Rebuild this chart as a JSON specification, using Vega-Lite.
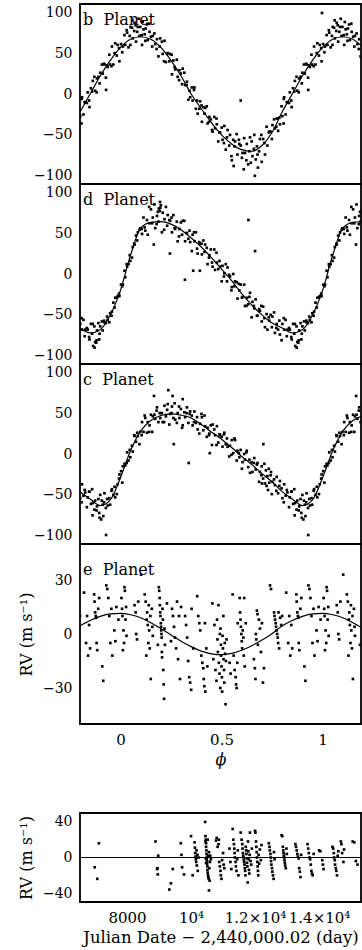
{
"$schema": "https://vega.github.io/schema/vega-lite/v6.json",
"padding": {"left": 17, "top": 2, "right": 0, "bottom": 0},
"config": {
 "font": "DejaVu Serif",
 "view": {"stroke": "black", "strokeWidth": 1.8},
 "axis": {"domain": false, "grid": false, "tickColor": "black", "tickWidth": 1, "tickSize": 0, "labelColor": "black", "labelFont": "DejaVu Serif", "labelFontSize": 14, "titleFont": "DejaVu Serif", "titleFontSize": 16, "titleFontWeight": "normal", "titleColor": "black", "labelOverlap": false, "labelFlush": false},
 "axisX": {"labelFontSize": 15}
},
"datasets": {
 "bFit": [{"phase":-0.2,"rv":-22},{"phase":-0.15,"rv":0},{"phase":-0.1,"rv":22},{"phase":-0.05,"rv":41},{"phase":0,"rv":57},{"phase":0.05,"rv":67},{"phase":0.1,"rv":70},{"phase":0.15,"rv":67},{"phase":0.2,"rv":57},{"phase":0.25,"rv":41},{"phase":0.3,"rv":22},{"phase":0.35,"rv":0},{"phase":0.4,"rv":-18},{"phase":0.45,"rv":-35},{"phase":0.5,"rv":-50},{"phase":0.55,"rv":-61},{"phase":0.6,"rv":-68},{"phase":0.65,"rv":-70},{"phase":0.7,"rv":-63},{"phase":0.75,"rv":-47},{"phase":0.8,"rv":-22},{"phase":0.85,"rv":0},{"phase":0.9,"rv":22},{"phase":0.95,"rv":41},{"phase":1,"rv":57},{"phase":1.05,"rv":67},{"phase":1.1,"rv":70},{"phase":1.15,"rv":67},{"phase":1.2,"rv":57}],
 "dFit": [{"phase":-0.2,"rv":-66},{"phase":-0.15,"rv":-72},{"phase":-0.1,"rv":-68},{"phase":-0.05,"rv":-50},{"phase":0,"rv":-20},{"phase":0.05,"rv":23},{"phase":0.1,"rv":56},{"phase":0.15,"rv":63},{"phase":0.2,"rv":64},{"phase":0.25,"rv":61},{"phase":0.3,"rv":54},{"phase":0.35,"rv":44},{"phase":0.4,"rv":33},{"phase":0.45,"rv":20},{"phase":0.5,"rv":6},{"phase":0.55,"rv":-8},{"phase":0.6,"rv":-24},{"phase":0.65,"rv":-38},{"phase":0.7,"rv":-50},{"phase":0.75,"rv":-60},{"phase":0.8,"rv":-66},{"phase":0.85,"rv":-72},{"phase":0.9,"rv":-68},{"phase":0.95,"rv":-50},{"phase":1,"rv":-20},{"phase":1.05,"rv":23},{"phase":1.1,"rv":56},{"phase":1.15,"rv":63},{"phase":1.2,"rv":64}],
 "cFit": [{"phase":-0.2,"rv":-46},{"phase":-0.15,"rv":-55},{"phase":-0.1,"rv":-63},{"phase":-0.05,"rv":-56},{"phase":0,"rv":-29},{"phase":0.05,"rv":4},{"phase":0.1,"rv":28},{"phase":0.15,"rv":41},{"phase":0.2,"rv":47},{"phase":0.25,"rv":49},{"phase":0.3,"rv":47.5},{"phase":0.35,"rv":44},{"phase":0.4,"rv":36},{"phase":0.45,"rv":27},{"phase":0.5,"rv":18},{"phase":0.55,"rv":8},{"phase":0.6,"rv":-3},{"phase":0.65,"rv":-13},{"phase":0.7,"rv":-24},{"phase":0.75,"rv":-34},{"phase":0.8,"rv":-46},{"phase":0.85,"rv":-55},{"phase":0.9,"rv":-63},{"phase":0.95,"rv":-56},{"phase":1,"rv":-29},{"phase":1.05,"rv":4},{"phase":1.1,"rv":28},{"phase":1.15,"rv":41},{"phase":1.2,"rv":47}],
 "eFit": [{"phase":-0.2,"rv":4.5},{"phase":-0.15,"rv":7.5},{"phase":-0.1,"rv":9.8},{"phase":-0.05,"rv":11.2},{"phase":0,"rv":11.5},{"phase":0.05,"rv":10.7},{"phase":0.1,"rv":9},{"phase":0.15,"rv":6.3},{"phase":0.2,"rv":3},{"phase":0.25,"rv":-0.5},{"phase":0.3,"rv":-4},{"phase":0.35,"rv":-7},{"phase":0.4,"rv":-9.5},{"phase":0.45,"rv":-11},{"phase":0.5,"rv":-11.5},{"phase":0.55,"rv":-10.8},{"phase":0.6,"rv":-9},{"phase":0.65,"rv":-6.5},{"phase":0.7,"rv":-3.3},{"phase":0.75,"rv":0.2},{"phase":0.8,"rv":4.5},{"phase":0.85,"rv":7.5},{"phase":0.9,"rv":9.8},{"phase":0.95,"rv":11.2},{"phase":1,"rv":11.5},{"phase":1.05,"rv":10.7},{"phase":1.1,"rv":9},{"phase":1.15,"rv":6.3},{"phase":1.2,"rv":3}],
 "bPts": [
{"phase":-0.199,"rv":-27},{"phase":-0.19,"rv":-4},{"phase":-0.183,"rv":-25},{"phase":-0.177,"rv":-10},{"phase":-0.166,"rv":-11},{"phase":-0.162,"rv":2},{"phase":-0.153,"rv":-16},{"phase":-0.146,"rv":7},{"phase":-0.14,"rv":3},{"phase":-0.129,"rv":21},{"phase":-0.125,"rv":4},{"phase":-0.116,"rv":19},{"phase":-0.109,"rv":21},{"phase":-0.103,"rv":13},{"phase":-0.092,"rv":36},{"phase":-0.088,"rv":25},{"phase":-0.079,"rv":36},{"phase":-0.072,"rv":20},{"phase":-0.066,"rv":35},{"phase":-0.055,"rv":48},{"phase":-0.051,"rv":36},{"phase":-0.042,"rv":58},{"phase":-0.035,"rv":36},{"phase":-0.029,"rv":50},{"phase":-0.018,"rv":47},{"phase":-0.014,"rv":60},{"phase":-0.005,"rv":40},{"phase":-0.193,"rv":-36},{"phase":-0.071,"rv":5},
{"phase":0.003,"rv":61},{"phase":0.009,"rv":51},{"phase":0.02,"rv":72},{"phase":0.024,"rv":60},{"phase":0.033,"rv":75},{"phase":0.04,"rv":57},{"phase":0.046,"rv":71},{"phase":0.057,"rv":81},{"phase":0.061,"rv":68},{"phase":0.07,"rv":87},{"phase":0.077,"rv":64},{"phase":0.083,"rv":76},{"phase":0.094,"rv":71},{"phase":0.098,"rv":82},{"phase":0.107,"rv":60},{"phase":0.114,"rv":79},{"phase":0.12,"rv":73},{"phase":0.131,"rv":85},{"phase":0.135,"rv":66},{"phase":0.144,"rv":76},{"phase":0.151,"rv":70},{"phase":0.157,"rv":58},{"phase":0.168,"rv":74},{"phase":0.172,"rv":61},{"phase":0.181,"rv":67},{"phase":0.188,"rv":46},{"phase":0.194,"rv":58},
{"phase":0.06,"rv":90},{"phase":0.075,"rv":84},{"phase":0.09,"rv":92},{"phase":0.11,"rv":88},{"phase":0.125,"rv":80},{"phase":0.05,"rv":82},
{"phase":0.205,"rv":64},{"phase":0.209,"rv":49},{"phase":0.218,"rv":65},{"phase":0.225,"rv":39},{"phase":0.231,"rv":49},{"phase":0.242,"rv":40},{"phase":0.246,"rv":49},{"phase":0.255,"rv":24},{"phase":0.262,"rv":41},{"phase":0.268,"rv":33},{"phase":0.279,"rv":42},{"phase":0.283,"rv":21},{"phase":0.292,"rv":29},{"phase":0.299,"rv":25},{"phase":0.305,"rv":12},{"phase":0.316,"rv":26},{"phase":0.32,"rv":11},{"phase":0.329,"rv":15},{"phase":0.336,"rv":-7},{"phase":0.342,"rv":4},{"phase":0.353,"rv":8},{"phase":0.357,"rv":-8},{"phase":0.366,"rv":8},{"phase":0.373,"rv":-18},{"phase":0.379,"rv":-8},{"phase":0.39,"rv":-18},{"phase":0.394,"rv":-9},
{"phase":0.403,"rv":-34},{"phase":0.41,"rv":-16},{"phase":0.416,"rv":-24},{"phase":0.427,"rv":-15},{"phase":0.431,"rv":-36},{"phase":0.44,"rv":-28},{"phase":0.447,"rv":-31},{"phase":0.453,"rv":-44},{"phase":0.464,"rv":-28},{"phase":0.468,"rv":-42},{"phase":0.477,"rv":-37},{"phase":0.484,"rv":-58},{"phase":0.49,"rv":-47},{"phase":0.501,"rv":-41},{"phase":0.505,"rv":-56},{"phase":0.514,"rv":-39},{"phase":0.521,"rv":-68},{"phase":0.527,"rv":-53},{"phase":0.538,"rv":-63},{"phase":0.542,"rv":-50},{"phase":0.551,"rv":-81},{"phase":0.558,"rv":-56},{"phase":0.564,"rv":-64},{"phase":0.575,"rv":-49},{"phase":0.579,"rv":-74},{"phase":0.588,"rv":-61},{"phase":0.595,"rv":-63},{"phase":0.595,"rv":-8},
{"phase":0.601,"rv":-78},{"phase":0.612,"rv":-54},{"phase":0.616,"rv":-72},{"phase":0.625,"rv":-61},{"phase":0.632,"rv":-86},{"phase":0.638,"rv":-70},{"phase":0.649,"rv":-58},{"phase":0.653,"rv":-76},{"phase":0.662,"rv":-50},{"phase":0.665,"rv":-100},{"phase":0.669,"rv":-80},{"phase":0.675,"rv":-64},{"phase":0.686,"rv":-70},{"phase":0.69,"rv":-55},{"phase":0.699,"rv":-83},{"phase":0.706,"rv":-55},{"phase":0.712,"rv":-60},{"phase":0.723,"rv":-40},{"phase":0.727,"rv":-63},{"phase":0.736,"rv":-46},{"phase":0.743,"rv":-46},{"phase":0.749,"rv":-55},{"phase":0.76,"rv":-31},{"phase":0.764,"rv":-42},{"phase":0.773,"rv":-30},{"phase":0.78,"rv":-45},{"phase":0.786,"rv":-29},{"phase":0.797,"rv":-15},
{"phase":0.56,"rv":-88},{"phase":0.61,"rv":-92},{"phase":0.645,"rv":-84},{"phase":0.68,"rv":-90},
{"phase":0.801,"rv":-27},{"phase":0.807,"rv":-36},{"phase":0.81,"rv":-4},{"phase":0.817,"rv":-25},{"phase":0.823,"rv":-10},{"phase":0.834,"rv":-11},{"phase":0.838,"rv":2},{"phase":0.847,"rv":-16},{"phase":0.854,"rv":7},{"phase":0.86,"rv":3},{"phase":0.871,"rv":21},{"phase":0.875,"rv":4},{"phase":0.884,"rv":19},{"phase":0.891,"rv":21},{"phase":0.897,"rv":13},{"phase":0.908,"rv":36},{"phase":0.912,"rv":25},{"phase":0.921,"rv":36},{"phase":0.928,"rv":20},{"phase":0.929,"rv":5},{"phase":0.934,"rv":35},{"phase":0.945,"rv":48},{"phase":0.949,"rv":36},{"phase":0.958,"rv":58},{"phase":0.965,"rv":36},{"phase":0.971,"rv":50},{"phase":0.982,"rv":47},{"phase":0.986,"rv":60},{"phase":0.995,"rv":40},{"phase":0.997,"rv":99},
{"phase":1.003,"rv":61},{"phase":1.009,"rv":51},{"phase":1.02,"rv":72},{"phase":1.024,"rv":60},{"phase":1.033,"rv":75},{"phase":1.04,"rv":57},{"phase":1.046,"rv":71},{"phase":1.057,"rv":81},{"phase":1.061,"rv":68},{"phase":1.07,"rv":87},{"phase":1.077,"rv":64},{"phase":1.083,"rv":76},{"phase":1.094,"rv":71},{"phase":1.098,"rv":82},{"phase":1.107,"rv":60},{"phase":1.114,"rv":79},{"phase":1.12,"rv":73},{"phase":1.131,"rv":85},{"phase":1.135,"rv":66},{"phase":1.144,"rv":76},{"phase":1.151,"rv":70},{"phase":1.157,"rv":58},{"phase":1.168,"rv":74},{"phase":1.172,"rv":61},{"phase":1.181,"rv":67},{"phase":1.188,"rv":46},
{"phase":1.06,"rv":90},{"phase":1.075,"rv":84},{"phase":1.09,"rv":92},{"phase":1.11,"rv":88},{"phase":1.125,"rv":80},{"phase":1.05,"rv":82},
{"phase":0.012,"rv":58},{"phase":0.031,"rv":78},{"phase":0.049,"rv":60},{"phase":0.068,"rv":77},{"phase":0.086,"rv":82},{"phase":0.105,"rv":72},{"phase":0.123,"rv":65},{"phase":0.142,"rv":86},{"phase":0.16,"rv":71},{"phase":0.179,"rv":55},{"phase":0.197,"rv":68},{"phase":0.216,"rv":40},{"phase":0.234,"rv":50},{"phase":0.253,"rv":48},{"phase":0.271,"rv":30},{"phase":0.29,"rv":17},{"phase":0.308,"rv":31},{"phase":0.327,"rv":11},{"phase":0.345,"rv":-4},{"phase":0.364,"rv":5},{"phase":0.382,"rv":-24},{"phase":0.401,"rv":-14},{"phase":0.419,"rv":-17},{"phase":0.438,"rv":-34},{"phase":0.456,"rv":-46},{"phase":0.475,"rv":-30},{"phase":0.493,"rv":-47},{"phase":0.512,"rv":-60},{"phase":0.53,"rv":-44},{"phase":0.549,"rv":-76},{"phase":0.567,"rv":-58},{"phase":0.586,"rv":-56},{"phase":0.604,"rv":-72},{"phase":0.623,"rv":-81},{"phase":0.641,"rv":-53},{"phase":0.66,"rv":-67},{"phase":0.678,"rv":-74},{"phase":0.697,"rv":-50},{"phase":0.715,"rv":-74},{"phase":0.734,"rv":-47},{"phase":0.752,"rv":-38},{"phase":0.771,"rv":-40},{"phase":0.789,"rv":-37},{"phase":0.808,"rv":-6},{"phase":0.826,"rv":-10},{"phase":0.845,"rv":-8},{"phase":0.863,"rv":16},{"phase":0.882,"rv":2},{"phase":0.9,"rv":26},{"phase":0.919,"rv":37},{"phase":0.937,"rv":33},{"phase":0.956,"rv":34},{"phase":0.974,"rv":62},{"phase":0.993,"rv":56},
{"phase":-0.192,"rv":-6},{"phase":-0.174,"rv":-10},{"phase":-0.155,"rv":-8},{"phase":-0.137,"rv":16},{"phase":-0.118,"rv":2},{"phase":-0.1,"rv":26},{"phase":-0.081,"rv":37},{"phase":-0.063,"rv":33},{"phase":-0.044,"rv":34},{"phase":-0.026,"rv":62},{"phase":-0.007,"rv":56},
{"phase":1.012,"rv":58},{"phase":1.031,"rv":78},{"phase":1.049,"rv":60},{"phase":1.068,"rv":77},{"phase":1.086,"rv":82},{"phase":1.105,"rv":72},{"phase":1.123,"rv":65},{"phase":1.142,"rv":86},{"phase":1.16,"rv":71},{"phase":1.179,"rv":55}
 ],
 "dPts": [
{"phase":-0.199,"rv":-61},{"phase":-0.19,"rv":-68},{"phase":-0.183,"rv":-56},{"phase":-0.177,"rv":-76},{"phase":-0.166,"rv":-66},{"phase":-0.162,"rv":-68},{"phase":-0.153,"rv":-80},{"phase":-0.146,"rv":-61},{"phase":-0.14,"rv":-73},{"phase":-0.129,"rv":-64},{"phase":-0.125,"rv":-83},{"phase":-0.116,"rv":-69},{"phase":-0.109,"rv":-60},{"phase":-0.103,"rv":-73},{"phase":-0.092,"rv":-58},{"phase":-0.088,"rv":-69},{"phase":-0.079,"rv":-59},{"phase":-0.072,"rv":-60},{"phase":-0.066,"rv":-52},{"phase":-0.055,"rv":-59},{"phase":-0.051,"rv":-48},{"phase":-0.042,"rv":-46},{"phase":-0.035,"rv":-35},{"phase":-0.029,"rv":-41},{"phase":-0.018,"rv":-29},{"phase":-0.014,"rv":-27},{"phase":-0.005,"rv":-27},{"phase":-0.135,"rv":-88},{"phase":-0.12,"rv":-84},{"phase":-0.128,"rv":-90},{"phase":-0.105,"rv":-80},
{"phase":0.003,"rv":-13},{"phase":0.009,"rv":-15},{"phase":0.02,"rv":4},{"phase":0.024,"rv":-4},{"phase":0.033,"rv":9},{"phase":0.04,"rv":12},{"phase":0.046,"rv":23},{"phase":0.057,"rv":20},{"phase":0.061,"rv":33},{"phase":0.07,"rv":36},{"phase":0.077,"rv":47},{"phase":0.083,"rv":41},{"phase":0.094,"rv":54},{"phase":0.098,"rv":56},{"phase":0.107,"rv":49},{"phase":0.114,"rv":69},{"phase":0.12,"rv":57},{"phase":0.131,"rv":66},{"phase":0.135,"rv":48},{"phase":0.144,"rv":62},{"phase":0.151,"rv":79},{"phase":0.157,"rv":62},{"phase":0.165,"rv":36},{"phase":0.168,"rv":85},{"phase":0.172,"rv":56},{"phase":0.181,"rv":71},{"phase":0.185,"rv":76},{"phase":0.188,"rv":64},{"phase":0.19,"rv":80},{"phase":0.194,"rv":77},{"phase":0.196,"rv":88},{"phase":0.2,"rv":84},
{"phase":0.205,"rv":51},{"phase":0.209,"rv":75},{"phase":0.218,"rv":67},{"phase":0.225,"rv":82},{"phase":0.231,"rv":59},{"phase":0.242,"rv":66},{"phase":0.245,"rv":25},{"phase":0.246,"rv":65},{"phase":0.255,"rv":51},{"phase":0.262,"rv":72},{"phase":0.268,"rv":56},{"phase":0.279,"rv":64},{"phase":0.283,"rv":40},{"phase":0.292,"rv":55},{"phase":0.299,"rv":63},{"phase":0.305,"rv":48},{"phase":0.316,"rv":65},{"phase":0.319,"rv":-7},{"phase":0.32,"rv":40},{"phase":0.329,"rv":50},{"phase":0.336,"rv":43},{"phase":0.342,"rv":53},{"phase":0.353,"rv":28},{"phase":0.357,"rv":48},{"phase":0.36,"rv":4},{"phase":0.366,"rv":40},{"phase":0.373,"rv":51},{"phase":0.379,"rv":31},{"phase":0.39,"rv":39},{"phase":0.393,"rv":4},{"phase":0.394,"rv":37},
{"phase":0.403,"rv":24},{"phase":0.41,"rv":41},{"phase":0.416,"rv":27},{"phase":0.427,"rv":32},{"phase":0.431,"rv":12},{"phase":0.44,"rv":23},{"phase":0.447,"rv":30},{"phase":0.453,"rv":14},{"phase":0.464,"rv":30},{"phase":0.468,"rv":5},{"phase":0.477,"rv":14},{"phase":0.484,"rv":6},{"phase":0.49,"rv":16},{"phase":0.501,"rv":-9},{"phase":0.505,"rv":10},{"phase":0.514,"rv":1},{"phase":0.521,"rv":12},{"phase":0.527,"rv":-9},{"phase":0.538,"rv":-1},{"phase":0.542,"rv":-3},{"phase":0.551,"rv":-16},{"phase":0.558,"rv":0},{"phase":0.564,"rv":-15},{"phase":0.575,"rv":-10},{"phase":0.579,"rv":-30},{"phase":0.588,"rv":-20},{"phase":0.595,"rv":-13},
{"phase":0.601,"rv":-29},{"phase":0.612,"rv":-13},{"phase":0.616,"rv":-39},{"phase":0.625,"rv":-29},{"phase":0.632,"rv":-37},{"phase":0.633,"rv":66},{"phase":0.638,"rv":-28},{"phase":0.649,"rv":-53},{"phase":0.653,"rv":-34},{"phase":0.662,"rv":-42},{"phase":0.666,"rv":28},{"phase":0.669,"rv":-31},{"phase":0.675,"rv":-51},{"phase":0.686,"rv":-43},{"phase":0.69,"rv":-45},{"phase":0.699,"rv":-58},{"phase":0.706,"rv":-40},{"phase":0.712,"rv":-54},{"phase":0.723,"rv":-49},{"phase":0.727,"rv":-68},{"phase":0.736,"rv":-57},{"phase":0.743,"rv":-50},{"phase":0.749,"rv":-65},{"phase":0.76,"rv":-47},{"phase":0.764,"rv":-72},{"phase":0.773,"rv":-61},{"phase":0.78,"rv":-68},{"phase":0.786,"rv":-57},{"phase":0.797,"rv":-81},
{"phase":0.801,"rv":-61},{"phase":0.81,"rv":-68},{"phase":0.817,"rv":-56},{"phase":0.823,"rv":-76},{"phase":0.834,"rv":-66},{"phase":0.838,"rv":-68},{"phase":0.847,"rv":-80},{"phase":0.854,"rv":-61},{"phase":0.86,"rv":-73},{"phase":0.865,"rv":-88},{"phase":0.871,"rv":-64},{"phase":0.872,"rv":-90},{"phase":0.875,"rv":-83},{"phase":0.88,"rv":-84},{"phase":0.884,"rv":-69},{"phase":0.891,"rv":-60},{"phase":0.895,"rv":-80},{"phase":0.897,"rv":-73},{"phase":0.908,"rv":-58},{"phase":0.912,"rv":-69},{"phase":0.921,"rv":-59},{"phase":0.928,"rv":-60},{"phase":0.934,"rv":-52},{"phase":0.945,"rv":-59},{"phase":0.949,"rv":-48},{"phase":0.958,"rv":-46},{"phase":0.965,"rv":-35},{"phase":0.971,"rv":-41},{"phase":0.982,"rv":-29},{"phase":0.986,"rv":-27},{"phase":0.995,"rv":-27},
{"phase":1.003,"rv":-13},{"phase":1.009,"rv":-15},{"phase":1.02,"rv":4},{"phase":1.024,"rv":-4},{"phase":1.033,"rv":9},{"phase":1.04,"rv":12},{"phase":1.046,"rv":23},{"phase":1.057,"rv":20},{"phase":1.061,"rv":33},{"phase":1.07,"rv":36},{"phase":1.077,"rv":47},{"phase":1.083,"rv":41},{"phase":1.094,"rv":54},{"phase":1.098,"rv":56},{"phase":1.107,"rv":49},{"phase":1.114,"rv":69},{"phase":1.12,"rv":57},{"phase":1.131,"rv":66},{"phase":1.135,"rv":48},{"phase":1.144,"rv":62},{"phase":1.151,"rv":79},{"phase":1.157,"rv":62},{"phase":1.165,"rv":36},{"phase":1.168,"rv":85},{"phase":1.172,"rv":56},{"phase":1.181,"rv":71},{"phase":1.185,"rv":76},{"phase":1.188,"rv":64},
{"phase":0.012,"rv":-13},{"phase":0.031,"rv":12},{"phase":0.049,"rv":16},{"phase":0.068,"rv":37},{"phase":0.086,"rv":51},{"phase":0.105,"rv":55},{"phase":0.123,"rv":53},{"phase":0.142,"rv":82},{"phase":0.16,"rv":69},{"phase":0.179,"rv":61},{"phase":0.197,"rv":81},{"phase":0.216,"rv":54},{"phase":0.234,"rv":72},{"phase":0.253,"rv":69},{"phase":0.271,"rv":55},{"phase":0.29,"rv":46},{"phase":0.308,"rv":65},{"phase":0.327,"rv":50},{"phase":0.345,"rv":39},{"phase":0.364,"rv":51},{"phase":0.382,"rv":25},{"phase":0.401,"rv":37},{"phase":0.419,"rv":36},{"phase":0.438,"rv":20},{"phase":0.456,"rv":9},{"phase":0.475,"rv":26},{"phase":0.493,"rv":9},{"phase":0.512,"rv":-3},{"phase":0.53,"rv":8},{"phase":0.549,"rv":-20},{"phase":0.567,"rv":-9},{"phase":0.586,"rv":-12},{"phase":0.604,"rv":-28},{"phase":0.623,"rv":-39},{"phase":0.641,"rv":-23},{"phase":0.66,"rv":-39},{"phase":0.678,"rv":-51},{"phase":0.697,"rv":-39},{"phase":0.715,"rv":-65},{"phase":0.734,"rv":-53},{"phase":0.752,"rv":-52},{"phase":0.771,"rv":-66},{"phase":0.789,"rv":-74},{"phase":0.808,"rv":-54},{"phase":0.826,"rv":-68},{"phase":0.845,"rv":-77},{"phase":0.863,"rv":-61},{"phase":0.882,"rv":-81},{"phase":0.9,"rv":-64},{"phase":0.919,"rv":-57},{"phase":0.937,"rv":-56},{"phase":0.956,"rv":-51},{"phase":0.974,"rv":-29},{"phase":0.993,"rv":-24},
{"phase":-0.192,"rv":-54},{"phase":-0.174,"rv":-68},{"phase":-0.155,"rv":-77},{"phase":-0.137,"rv":-61},{"phase":-0.118,"rv":-81},{"phase":-0.1,"rv":-64},{"phase":-0.081,"rv":-57},{"phase":-0.063,"rv":-56},{"phase":-0.044,"rv":-51},{"phase":-0.026,"rv":-29},{"phase":-0.007,"rv":-24},
{"phase":1.012,"rv":-13},{"phase":1.031,"rv":12},{"phase":1.049,"rv":16},{"phase":1.068,"rv":37},{"phase":1.086,"rv":51},{"phase":1.105,"rv":55},{"phase":1.123,"rv":53},{"phase":1.142,"rv":82},{"phase":1.16,"rv":69},{"phase":1.179,"rv":61}
 ],
 "cPts": [
{"phase":-0.199,"rv":-54},{"phase":-0.19,"rv":-37},{"phase":-0.183,"rv":-51},{"phase":-0.177,"rv":-44},{"phase":-0.166,"rv":-65},{"phase":-0.162,"rv":-53},{"phase":-0.153,"rv":-46},{"phase":-0.146,"rv":-61},{"phase":-0.14,"rv":-43},{"phase":-0.138,"rv":-75},{"phase":-0.129,"rv":-68},{"phase":-0.125,"rv":-57},{"phase":-0.116,"rv":-64},{"phase":-0.109,"rv":-55},{"phase":-0.105,"rv":-72},{"phase":-0.103,"rv":-78},{"phase":-0.095,"rv":-80},{"phase":-0.092,"rv":-57},{"phase":-0.088,"rv":-62},{"phase":-0.085,"rv":-76},{"phase":-0.079,"rv":-48},{"phase":-0.072,"rv":-66},{"phase":-0.071,"rv":-99},{"phase":-0.066,"rv":-55},{"phase":-0.055,"rv":-54},{"phase":-0.051,"rv":-62},{"phase":-0.042,"rv":-43},{"phase":-0.035,"rv":-50},{"phase":-0.029,"rv":-40},{"phase":-0.018,"rv":-49},{"phase":-0.014,"rv":-37},{"phase":-0.005,"rv":-25},
{"phase":0.003,"rv":-21},{"phase":0.009,"rv":-35},{"phase":0.02,"rv":-12},{"phase":0.024,"rv":-14},{"phase":0.033,"rv":2},{"phase":0.04,"rv":-8},{"phase":0.046,"rv":5},{"phase":0.057,"rv":10},{"phase":0.061,"rv":3},{"phase":0.07,"rv":22},{"phase":0.077,"rv":15},{"phase":0.083,"rv":26},{"phase":0.094,"rv":12},{"phase":0.098,"rv":27},{"phase":0.107,"rv":39},{"phase":0.114,"rv":27},{"phase":0.12,"rv":47},{"phase":0.131,"rv":26},{"phase":0.135,"rv":39},{"phase":0.144,"rv":35},{"phase":0.151,"rv":48},{"phase":0.157,"rv":27},{"phase":0.166,"rv":71},{"phase":0.168,"rv":48},{"phase":0.172,"rv":43},{"phase":0.181,"rv":57},{"phase":0.188,"rv":39},{"phase":0.194,"rv":50},
{"phase":0.205,"rv":50},{"phase":0.209,"rv":39},{"phase":0.218,"rv":59},{"phase":0.225,"rv":46},{"phase":0.231,"rv":54},{"phase":0.237,"rv":78},{"phase":0.242,"rv":36},{"phase":0.246,"rv":49},{"phase":0.255,"rv":58},{"phase":0.258,"rv":71},{"phase":0.262,"rv":44},{"phase":0.264,"rv":12},{"phase":0.268,"rv":62},{"phase":0.279,"rv":38},{"phase":0.283,"rv":50},{"phase":0.292,"rv":44},{"phase":0.299,"rv":55},{"phase":0.305,"rv":32},{"phase":0.308,"rv":67},{"phase":0.316,"rv":51},{"phase":0.32,"rv":45},{"phase":0.329,"rv":57},{"phase":0.336,"rv":38},{"phase":0.338,"rv":-11},{"phase":0.342,"rv":49},{"phase":0.353,"rv":47},{"phase":0.357,"rv":35},{"phase":0.366,"rv":52},{"phase":0.373,"rv":38},{"phase":0.379,"rv":45},{"phase":0.39,"rv":25},{"phase":0.394,"rv":37},
{"phase":0.403,"rv":45},{"phase":0.41,"rv":29},{"phase":0.416,"rv":47},{"phase":0.427,"rv":21},{"phase":0.431,"rv":32},{"phase":0.44,"rv":25},{"phase":0.442,"rv":1},{"phase":0.447,"rv":35},{"phase":0.453,"rv":11},{"phase":0.464,"rv":30},{"phase":0.468,"rv":23},{"phase":0.477,"rv":34},{"phase":0.484,"rv":14},{"phase":0.49,"rv":24},{"phase":0.501,"rv":21},{"phase":0.505,"rv":9},{"phase":0.514,"rv":26},{"phase":0.521,"rv":12},{"phase":0.527,"rv":19},{"phase":0.538,"rv":-3},{"phase":0.542,"rv":10},{"phase":0.551,"rv":17},{"phase":0.558,"rv":1},{"phase":0.564,"rv":19},{"phase":0.575,"rv":-8},{"phase":0.579,"rv":4},{"phase":0.588,"rv":-4},{"phase":0.595,"rv":5},
{"phase":0.601,"rv":-18},{"phase":0.612,"rv":0},{"phase":0.616,"rv":-7},{"phase":0.625,"rv":4},{"phase":0.632,"rv":-16},{"phase":0.638,"rv":-7},{"phase":0.649,"rv":-10},{"phase":0.653,"rv":-22},{"phase":0.662,"rv":-5},{"phase":0.669,"rv":-19},{"phase":0.675,"rv":-13},{"phase":0.686,"rv":-34},{"phase":0.69,"rv":-22},{"phase":0.699,"rv":-15},{"phase":0.7,"rv":-36},{"phase":0.706,"rv":-30},{"phase":0.707,"rv":12},{"phase":0.712,"rv":-12},{"phase":0.72,"rv":-20},{"phase":0.723,"rv":-39},{"phase":0.727,"rv":-27},{"phase":0.73,"rv":-44},{"phase":0.736,"rv":-35},{"phase":0.743,"rv":-26},{"phase":0.745,"rv":-22},{"phase":0.749,"rv":-49},{"phase":0.76,"rv":-31},{"phase":0.764,"rv":-38},{"phase":0.773,"rv":-28},{"phase":0.78,"rv":-48},{"phase":0.786,"rv":-39},{"phase":0.797,"rv":-42},
{"phase":0.801,"rv":-54},{"phase":0.81,"rv":-37},{"phase":0.817,"rv":-51},{"phase":0.823,"rv":-44},{"phase":0.834,"rv":-65},{"phase":0.838,"rv":-53},{"phase":0.847,"rv":-46},{"phase":0.854,"rv":-61},{"phase":0.86,"rv":-43},{"phase":0.862,"rv":-75},{"phase":0.871,"rv":-68},{"phase":0.875,"rv":-57},{"phase":0.884,"rv":-64},{"phase":0.891,"rv":-55},{"phase":0.895,"rv":-72},{"phase":0.897,"rv":-78},{"phase":0.905,"rv":-80},{"phase":0.908,"rv":-57},{"phase":0.912,"rv":-62},{"phase":0.915,"rv":-76},{"phase":0.921,"rv":-48},{"phase":0.928,"rv":-66},{"phase":0.929,"rv":-99},{"phase":0.934,"rv":-55},{"phase":0.945,"rv":-54},{"phase":0.949,"rv":-62},{"phase":0.958,"rv":-43},{"phase":0.965,"rv":-50},{"phase":0.971,"rv":-40},{"phase":0.982,"rv":-49},{"phase":0.986,"rv":-37},{"phase":0.995,"rv":-25},
{"phase":1.003,"rv":-21},{"phase":1.009,"rv":-35},{"phase":1.02,"rv":-12},{"phase":1.024,"rv":-14},{"phase":1.033,"rv":2},{"phase":1.04,"rv":-8},{"phase":1.046,"rv":5},{"phase":1.057,"rv":10},{"phase":1.061,"rv":3},{"phase":1.07,"rv":22},{"phase":1.077,"rv":15},{"phase":1.083,"rv":26},{"phase":1.094,"rv":12},{"phase":1.098,"rv":27},{"phase":1.107,"rv":39},{"phase":1.114,"rv":27},{"phase":1.12,"rv":47},{"phase":1.131,"rv":26},{"phase":1.135,"rv":39},{"phase":1.144,"rv":35},{"phase":1.151,"rv":48},{"phase":1.157,"rv":27},{"phase":1.166,"rv":71},{"phase":1.168,"rv":48},{"phase":1.172,"rv":43},{"phase":1.181,"rv":57},{"phase":1.188,"rv":39},
{"phase":0.012,"rv":-15},{"phase":0.031,"rv":-11},{"phase":0.049,"rv":-4},{"phase":0.068,"rv":23},{"phase":0.086,"rv":22},{"phase":0.105,"rv":23},{"phase":0.123,"rv":44},{"phase":0.142,"rv":27},{"phase":0.16,"rv":46},{"phase":0.179,"rv":53},{"phase":0.197,"rv":44},{"phase":0.216,"rv":39},{"phase":0.234,"rv":61},{"phase":0.253,"rv":50},{"phase":0.271,"rv":42},{"phase":0.29,"rv":58},{"phase":0.308,"rv":35},{"phase":0.327,"rv":50},{"phase":0.345,"rv":52},{"phase":0.364,"rv":39},{"phase":0.382,"rv":30},{"phase":0.401,"rv":49},{"phase":0.419,"rv":34},{"phase":0.438,"rv":23},{"phase":0.456,"rv":36},{"phase":0.475,"rv":11},{"phase":0.493,"rv":23},{"phase":0.512,"rv":24},{"phase":0.53,"rv":9},{"phase":0.549,"rv":-1},{"phase":0.567,"rv":17},{"phase":0.586,"rv":1},{"phase":0.604,"rv":-10},{"phase":0.623,"rv":2},{"phase":0.641,"rv":-23},{"phase":0.66,"rv":-11},{"phase":0.678,"rv":-11},{"phase":0.697,"rv":-26},{"phase":0.715,"rv":-36},{"phase":0.734,"rv":-18},{"phase":0.752,"rv":-34},{"phase":0.771,"rv":-45},{"phase":0.789,"rv":-33},{"phase":0.808,"rv":-59},{"phase":0.826,"rv":-47},{"phase":0.845,"rv":-46},{"phase":0.863,"rv":-60},{"phase":0.882,"rv":-69},{"phase":0.9,"rv":-50},{"phase":0.919,"rv":-59},{"phase":0.937,"rv":-63},{"phase":0.956,"rv":-45},{"phase":0.974,"rv":-53},{"phase":0.993,"rv":-30},
{"phase":-0.192,"rv":-59},{"phase":-0.174,"rv":-47},{"phase":-0.155,"rv":-46},{"phase":-0.137,"rv":-60},{"phase":-0.118,"rv":-69},{"phase":-0.1,"rv":-50},{"phase":-0.081,"rv":-59},{"phase":-0.063,"rv":-63},{"phase":-0.044,"rv":-45},{"phase":-0.026,"rv":-53},{"phase":-0.007,"rv":-30},
{"phase":1.012,"rv":-15},{"phase":1.031,"rv":-11},{"phase":1.049,"rv":-4},{"phase":1.068,"rv":23},{"phase":1.086,"rv":22},{"phase":1.105,"rv":23},{"phase":1.123,"rv":44},{"phase":1.142,"rv":27},{"phase":1.16,"rv":46},{"phase":1.179,"rv":53}
 ],
 "ePts": [
{"phase":-0.2,"rv":10},{"phase":-0.18,"rv":23},{"phase":-0.17,"rv":-5},{"phase":-0.165,"rv":10},{"phase":-0.16,"rv":-12},{"phase":-0.155,"rv":5},{"phase":-0.15,"rv":-8},{"phase":-0.13,"rv":22},{"phase":-0.128,"rv":18},{"phase":-0.125,"rv":12},{"phase":-0.122,"rv":10},{"phase":-0.12,"rv":9},{"phase":-0.118,"rv":-5},{"phase":-0.115,"rv":-9},{"phase":-0.11,"rv":14},{"phase":-0.105,"rv":20},{"phase":-0.09,"rv":-18},{"phase":-0.085,"rv":-26},{"phase":-0.07,"rv":27},{"phase":-0.065,"rv":25},{"phase":-0.06,"rv":20},{"phase":-0.055,"rv":10},{"phase":-0.05,"rv":-5},{"phase":-0.045,"rv":14},{"phase":-0.04,"rv":-12},{"phase":-0.03,"rv":2},{"phase":-0.025,"rv":-4},{"phase":-0.02,"rv":15},{"phase":-0.01,"rv":8},
{"phase":0.005,"rv":20},{"phase":0.008,"rv":14},{"phase":0.01,"rv":10},{"phase":0.012,"rv":-9},{"phase":0.015,"rv":2},{"phase":0.018,"rv":-5},{"phase":0.02,"rv":26},{"phase":0.022,"rv":24},{"phase":0.025,"rv":8},{"phase":0.028,"rv":15},{"phase":0.03,"rv":-1},{"phase":0.07,"rv":16},{"phase":0.075,"rv":12},{"phase":0.078,"rv":0},{"phase":0.082,"rv":-3},{"phase":0.088,"rv":18},{"phase":0.102,"rv":33},{"phase":0.12,"rv":22},{"phase":0.125,"rv":18},{"phase":0.128,"rv":-12},{"phase":0.13,"rv":8},{"phase":0.132,"rv":12},{"phase":0.135,"rv":5},{"phase":0.138,"rv":-5},{"phase":0.14,"rv":16},{"phase":0.142,"rv":2},{"phase":0.145,"rv":-8},{"phase":0.148,"rv":10},{"phase":0.15,"rv":-25},{"phase":0.155,"rv":14},{"phase":0.158,"rv":4},{"phase":0.16,"rv":-1},{"phase":0.185,"rv":-6},{"phase":0.19,"rv":26},{"phase":0.192,"rv":24},{"phase":0.194,"rv":20},{"phase":0.195,"rv":16},{"phase":0.197,"rv":12},{"phase":0.198,"rv":10},{"phase":0.2,"rv":6},
{"phase":0.201,"rv":4},{"phase":0.202,"rv":2},{"phase":0.203,"rv":0},{"phase":0.204,"rv":-2},{"phase":0.205,"rv":-10},{"phase":0.206,"rv":-13},{"phase":0.208,"rv":14},{"phase":0.21,"rv":8},{"phase":0.212,"rv":-20},{"phase":0.214,"rv":-28},{"phase":0.216,"rv":-36},{"phase":0.218,"rv":3},{"phase":0.22,"rv":-6},{"phase":0.23,"rv":17},{"phase":0.25,"rv":-4},{"phase":0.255,"rv":14},{"phase":0.26,"rv":10},{"phase":0.265,"rv":4},{"phase":0.27,"rv":-2},{"phase":0.275,"rv":-8},{"phase":0.28,"rv":18},{"phase":0.285,"rv":-14},{"phase":0.29,"rv":10},{"phase":0.295,"rv":-25},{"phase":0.3,"rv":15},{"phase":0.32,"rv":10},{"phase":0.325,"rv":5},{"phase":0.33,"rv":-2},{"phase":0.335,"rv":-15},{"phase":0.34,"rv":-24},{"phase":0.345,"rv":-27},{"phase":0.35,"rv":-31},{"phase":0.352,"rv":14},{"phase":0.36,"rv":-8},{"phase":0.38,"rv":21},{"phase":0.385,"rv":10},{"phase":0.39,"rv":6},{"phase":0.395,"rv":2},{"phase":0.4,"rv":-12},
{"phase":0.405,"rv":-16},{"phase":0.41,"rv":-19},{"phase":0.412,"rv":-25},{"phase":0.415,"rv":-29},{"phase":0.418,"rv":6},{"phase":0.42,"rv":-32},{"phase":0.425,"rv":-8},{"phase":0.43,"rv":-18},{"phase":0.455,"rv":17},{"phase":0.46,"rv":-14},{"phase":0.465,"rv":5},{"phase":0.47,"rv":-20},{"phase":0.475,"rv":-26},{"phase":0.478,"rv":8},{"phase":0.48,"rv":-3},{"phase":0.482,"rv":-10},{"phase":0.485,"rv":16},{"phase":0.487,"rv":-16},{"phase":0.49,"rv":-22},{"phase":0.492,"rv":0},{"phase":0.494,"rv":-30},{"phase":0.495,"rv":3},{"phase":0.497,"rv":-6},{"phase":0.498,"rv":-12},{"phase":0.5,"rv":-18},{"phase":0.502,"rv":-24},{"phase":0.503,"rv":-32},{"phase":0.505,"rv":-1},{"phase":0.507,"rv":-8},{"phase":0.509,"rv":10},{"phase":0.51,"rv":-14},{"phase":0.512,"rv":-20},{"phase":0.514,"rv":-27},{"phase":0.516,"rv":-5},{"phase":0.518,"rv":-11},{"phase":0.52,"rv":-39},{"phase":0.522,"rv":-15},{"phase":0.525,"rv":-3},{"phase":0.54,"rv":-16},{"phase":0.545,"rv":-22},{"phase":0.555,"rv":22},{"phase":0.56,"rv":-12},{"phase":0.565,"rv":-20},{"phase":0.57,"rv":-24},{"phase":0.572,"rv":-28},{"phase":0.575,"rv":-30},{"phase":0.578,"rv":-16},{"phase":0.58,"rv":6},{"phase":0.59,"rv":20},{"phase":0.592,"rv":12},{"phase":0.594,"rv":8},{"phase":0.596,"rv":4},{"phase":0.598,"rv":0},{"phase":0.6,"rv":-4},
{"phase":0.602,"rv":-8},{"phase":0.605,"rv":2},{"phase":0.608,"rv":-2},{"phase":0.61,"rv":-12},{"phase":0.612,"rv":20},{"phase":0.615,"rv":-18},{"phase":0.62,"rv":6},{"phase":0.66,"rv":-14},{"phase":0.665,"rv":-19},{"phase":0.668,"rv":-25},{"phase":0.67,"rv":0},{"phase":0.672,"rv":-3},{"phase":0.675,"rv":13},{"phase":0.678,"rv":11},{"phase":0.68,"rv":-6},{"phase":0.685,"rv":8},{"phase":0.69,"rv":3},{"phase":0.695,"rv":-10},{"phase":0.7,"rv":6},{"phase":0.705,"rv":-27},{"phase":0.71,"rv":-19},{"phase":0.74,"rv":27},{"phase":0.745,"rv":25},{"phase":0.76,"rv":12},{"phase":0.762,"rv":10},{"phase":0.765,"rv":8},{"phase":0.768,"rv":6},{"phase":0.77,"rv":4},{"phase":0.772,"rv":2},{"phase":0.775,"rv":0},{"phase":0.778,"rv":-2},{"phase":0.78,"rv":-5},{"phase":0.782,"rv":12},{"phase":0.785,"rv":-8},{"phase":0.79,"rv":9},{"phase":0.795,"rv":5},{"phase":0.8,"rv":10},
{"phase":0.82,"rv":23},{"phase":0.83,"rv":-5},{"phase":0.835,"rv":10},{"phase":0.84,"rv":-12},{"phase":0.845,"rv":5},{"phase":0.85,"rv":-8},{"phase":0.87,"rv":22},{"phase":0.872,"rv":18},{"phase":0.875,"rv":12},{"phase":0.878,"rv":10},{"phase":0.88,"rv":9},{"phase":0.882,"rv":-5},{"phase":0.885,"rv":-9},{"phase":0.89,"rv":14},{"phase":0.895,"rv":20},{"phase":0.91,"rv":-18},{"phase":0.915,"rv":-26},{"phase":0.93,"rv":27},{"phase":0.935,"rv":25},{"phase":0.94,"rv":20},{"phase":0.945,"rv":10},{"phase":0.95,"rv":-5},{"phase":0.955,"rv":14},{"phase":0.96,"rv":-12},{"phase":0.97,"rv":2},{"phase":0.975,"rv":-4},{"phase":0.98,"rv":15},{"phase":0.99,"rv":8},
{"phase":1.005,"rv":20},{"phase":1.008,"rv":14},{"phase":1.01,"rv":10},{"phase":1.012,"rv":-9},{"phase":1.015,"rv":2},{"phase":1.018,"rv":-5},{"phase":1.02,"rv":26},{"phase":1.022,"rv":24},{"phase":1.025,"rv":8},{"phase":1.028,"rv":15},{"phase":1.03,"rv":-1},{"phase":1.07,"rv":16},{"phase":1.075,"rv":12},{"phase":1.078,"rv":0},{"phase":1.082,"rv":-3},{"phase":1.088,"rv":18},{"phase":1.102,"rv":33},{"phase":1.12,"rv":22},{"phase":1.125,"rv":18},{"phase":1.128,"rv":-12},{"phase":1.13,"rv":8},{"phase":1.132,"rv":12},{"phase":1.135,"rv":5},{"phase":1.138,"rv":-5},{"phase":1.14,"rv":16},{"phase":1.142,"rv":2},{"phase":1.145,"rv":-8},{"phase":1.148,"rv":10},{"phase":1.15,"rv":-25},{"phase":1.155,"rv":14},{"phase":1.158,"rv":4},{"phase":1.16,"rv":-1},{"phase":1.185,"rv":-6}
 ],
 "resPts": [
{"jd":6990,"rv":-11},{"jd":7070,"rv":-24},{"jd":7120,"rv":16},
{"jd":8890,"rv":18},{"jd":8940,"rv":-13},{"jd":8950,"rv":-12},{"jd":8960,"rv":-19},{"jd":8975,"rv":2},
{"jd":9320,"rv":-36},{"jd":9370,"rv":-29},{"jd":9430,"rv":-13},
{"jd":9680,"rv":16},{"jd":9700,"rv":3},{"jd":9720,"rv":-11},{"jd":9780,"rv":-19},
{"jd":10000,"rv":24},{"jd":10050,"rv":-20},{"jd":10110,"rv":17},{"jd":10120,"rv":11},{"jd":10130,"rv":5},{"jd":10140,"rv":1},{"jd":10150,"rv":-2},{"jd":10160,"rv":-5},{"jd":10170,"rv":8},{"jd":10180,"rv":-9},{"jd":10200,"rv":3},{"jd":10210,"rv":-15},{"jd":10230,"rv":0},
{"jd":10440,"rv":40},{"jd":10450,"rv":24},{"jd":10460,"rv":20},{"jd":10470,"rv":16},{"jd":10470,"rv":12},{"jd":10480,"rv":8},{"jd":10480,"rv":4},{"jd":10490,"rv":0},{"jd":10490,"rv":-2},{"jd":10500,"rv":-4},{"jd":10500,"rv":-7},{"jd":10510,"rv":-10},{"jd":10510,"rv":-14},{"jd":10520,"rv":-17},{"jd":10520,"rv":20},{"jd":10530,"rv":2},{"jd":10530,"rv":-20},{"jd":10540,"rv":-22},{"jd":10550,"rv":-24},{"jd":10560,"rv":-37},{"jd":10560,"rv":6},{"jd":10570,"rv":-12},{"jd":10580,"rv":-26},{"jd":10590,"rv":-5},{"jd":10450,"rv":18},{"jd":10460,"rv":-1},{"jd":10470,"rv":-6},{"jd":10600,"rv":2},{"jd":10620,"rv":-2},
{"jd":10780,"rv":19},{"jd":10800,"rv":22},{"jd":10830,"rv":12},{"jd":10860,"rv":15},{"jd":10870,"rv":20},{"jd":10880,"rv":-5},{"jd":10900,"rv":-10},{"jd":10920,"rv":-15},{"jd":10930,"rv":-20},{"jd":10950,"rv":-24},{"jd":10970,"rv":-3},{"jd":11000,"rv":5},{"jd":11020,"rv":-8},{"jd":11040,"rv":-12},
{"jd":11200,"rv":10},{"jd":11230,"rv":-5},{"jd":11260,"rv":-13},{"jd":11300,"rv":32},{"jd":11320,"rv":20},{"jd":11340,"rv":15},{"jd":11350,"rv":10},{"jd":11360,"rv":5},{"jd":11370,"rv":0},{"jd":11390,"rv":-5},{"jd":11400,"rv":-10},{"jd":11420,"rv":-15},{"jd":11440,"rv":-2},{"jd":11460,"rv":8},{"jd":11480,"rv":-20},
{"jd":11550,"rv":28},{"jd":11580,"rv":20},{"jd":11600,"rv":15},{"jd":11610,"rv":10},{"jd":11620,"rv":5},{"jd":11630,"rv":2},{"jd":11640,"rv":0},{"jd":11650,"rv":-3},{"jd":11660,"rv":-5},{"jd":11670,"rv":-8},{"jd":11680,"rv":-12},{"jd":11690,"rv":-15},{"jd":11700,"rv":-20},{"jd":11710,"rv":12},{"jd":11720,"rv":8},{"jd":11730,"rv":4},{"jd":11740,"rv":-1},{"jd":11750,"rv":-6},{"jd":11760,"rv":-10},{"jd":11770,"rv":-28},{"jd":11780,"rv":18},{"jd":11790,"rv":7},{"jd":11800,"rv":-2},{"jd":11810,"rv":-14},{"jd":11820,"rv":-18},{"jd":11830,"rv":3},{"jd":11840,"rv":28},{"jd":11860,"rv":-4},{"jd":11880,"rv":-8},{"jd":11900,"rv":10},
{"jd":12000,"rv":30},{"jd":12010,"rv":28},{"jd":12030,"rv":18},{"jd":12040,"rv":12},{"jd":12050,"rv":6},{"jd":12060,"rv":0},{"jd":12070,"rv":-5},{"jd":12080,"rv":-10},{"jd":12090,"rv":-15},{"jd":12100,"rv":-20},{"jd":12110,"rv":3},{"jd":12130,"rv":-7},{"jd":12150,"rv":9},{"jd":12180,"rv":-3},{"jd":12200,"rv":14},
{"jd":12430,"rv":16},{"jd":12450,"rv":12},{"jd":12460,"rv":8},{"jd":12480,"rv":4},{"jd":12490,"rv":0},{"jd":12500,"rv":-4},{"jd":12510,"rv":-8},{"jd":12530,"rv":-12},{"jd":12540,"rv":-16},{"jd":12560,"rv":-20},{"jd":12580,"rv":-24},{"jd":12590,"rv":6},{"jd":12610,"rv":-2},
{"jd":12830,"rv":25},{"jd":12850,"rv":24},{"jd":12870,"rv":12},{"jd":12880,"rv":8},{"jd":12890,"rv":5},{"jd":12900,"rv":2},{"jd":12910,"rv":0},{"jd":12920,"rv":-3},{"jd":12930,"rv":-6},{"jd":12940,"rv":-9},{"jd":12960,"rv":-12},{"jd":12980,"rv":10},{"jd":12990,"rv":4},
{"jd":13260,"rv":15},{"jd":13280,"rv":12},{"jd":13300,"rv":8},{"jd":13320,"rv":4},{"jd":13340,"rv":1},{"jd":13360,"rv":-1},{"jd":13380,"rv":-12},{"jd":13400,"rv":-16},{"jd":13420,"rv":-22},{"jd":13440,"rv":3},
{"jd":13640,"rv":15},{"jd":13660,"rv":10},{"jd":13680,"rv":5},{"jd":13700,"rv":0},{"jd":13720,"rv":-2},{"jd":13740,"rv":-8},{"jd":13760,"rv":-15},{"jd":13780,"rv":-18},{"jd":13800,"rv":-20},{"jd":13830,"rv":4},
{"jd":14000,"rv":8},{"jd":14040,"rv":7},{"jd":14100,"rv":-3},{"jd":14120,"rv":-8},{"jd":14140,"rv":-13},
{"jd":14420,"rv":12},{"jd":14440,"rv":10},{"jd":14460,"rv":5},{"jd":14470,"rv":0},{"jd":14490,"rv":-3},{"jd":14500,"rv":-8},{"jd":14520,"rv":-12},{"jd":14540,"rv":-15},{"jd":14560,"rv":-20},{"jd":14580,"rv":2},{"jd":14600,"rv":7},
{"jd":14680,"rv":18},{"jd":14700,"rv":15},{"jd":14720,"rv":5},{"jd":14760,"rv":-5},{"jd":14780,"rv":9},
{"jd":15050,"rv":18},{"jd":15100,"rv":17},{"jd":15150,"rv":-4},{"jd":15200,"rv":-8}
 ],
 "resZero": [{"jd":6530,"rv":0},{"jd":15310,"rv":0}]
},
"spacing": 43,
"vconcat": [
 {
  "spacing": 0,
  "bounds": "flush",
  "vconcat": [
   {
    "width": 281, "height": 180,
    "resolve": {"axis": {"x": "independent", "y": "independent"}},
    "layer": [
     {"data": {"name": "bPts"}, "mark": {"type": "square", "size": 7, "color": "black", "opacity": 1, "clip": true},
      "encoding": {
       "x": {"field": "phase", "type": "quantitative", "scale": {"domain": [-0.2, 1.19], "nice": false, "zero": false}, "axis": {"orient": "bottom", "values": [-0.1,0,0.1,0.2,0.3,0.4,0.5,0.6,0.7,0.8,0.9,1,1.1], "labels": false, "title": null, "encode": {"ticks": {"update": {"y2": {"signal": "abs(datum.value*2-round(datum.value*2))<0.01 ? -8 : -4"}}}}}},
       "y": {"field": "rv", "type": "quantitative", "scale": {"domain": [-110, 110], "nice": false, "zero": false}, "axis": {"orient": "left", "values": [-100,-90,-80,-70,-60,-50,-40,-30,-20,-10,0,10,20,30,40,50,60,70,80,90,100], "labelExpr": "abs(datum.value%50)<0.01 ? datum.label : ''", "labelPadding": 8, "title": null, "encode": {"ticks": {"update": {"x2": {"signal": "abs(datum.value%50)<0.01 ? 8 : 4"}}}}}}
      }},
     {"data": {"name": "bFit"}, "mark": {"type": "line", "color": "black", "strokeWidth": 1.2, "interpolate": "monotone", "clip": true},
      "encoding": {
       "x": {"field": "phase", "type": "quantitative", "axis": {"orient": "top", "values": [-0.1,0,0.1,0.2,0.3,0.4,0.5,0.6,0.7,0.8,0.9,1,1.1], "labels": false, "title": null, "encode": {"ticks": {"update": {"y2": {"signal": "abs(datum.value*2-round(datum.value*2))<0.01 ? 8 : 4"}}}}}},
       "y": {"field": "rv", "type": "quantitative", "axis": {"orient": "right", "values": [-100,-90,-80,-70,-60,-50,-40,-30,-20,-10,0,10,20,30,40,50,60,70,80,90,100], "labels": false, "title": null, "encode": {"ticks": {"update": {"x2": {"signal": "abs(datum.value%50)<0.01 ? -8 : -4"}}}}}}
      }},
     {"data": {"values": [{"label": "b\u00a0\u00a0Planet", "phase": -0.2, "rv": 84}]}, "mark": {"type": "text", "align": "left", "baseline": "alphabetic", "dx": 3, "fontSize": 16, "font": "DejaVu Serif", "color": "black"},
      "encoding": {"x": {"field": "phase", "type": "quantitative", "axis": null}, "y": {"field": "rv", "type": "quantitative", "axis": null}, "text": {"field": "label"}}}
    ]
   },
   {
    "width": 281, "height": 180,
    "resolve": {"axis": {"x": "independent", "y": "independent"}},
    "layer": [
     {"data": {"name": "dPts"}, "mark": {"type": "square", "size": 7, "color": "black", "opacity": 1, "clip": true},
      "encoding": {
       "x": {"field": "phase", "type": "quantitative", "scale": {"domain": [-0.2, 1.19], "nice": false, "zero": false}, "axis": {"orient": "bottom", "values": [-0.1,0,0.1,0.2,0.3,0.4,0.5,0.6,0.7,0.8,0.9,1,1.1], "labels": false, "title": null, "encode": {"ticks": {"update": {"y2": {"signal": "abs(datum.value*2-round(datum.value*2))<0.01 ? -8 : -4"}}}}}},
       "y": {"field": "rv", "type": "quantitative", "scale": {"domain": [-110, 110], "nice": false, "zero": false}, "axis": {"orient": "left", "values": [-100,-90,-80,-70,-60,-50,-40,-30,-20,-10,0,10,20,30,40,50,60,70,80,90,100], "labelExpr": "abs(datum.value%50)<0.01 ? datum.label : ''", "labelPadding": 8, "title": null, "encode": {"ticks": {"update": {"x2": {"signal": "abs(datum.value%50)<0.01 ? 8 : 4"}}}}}}
      }},
     {"data": {"name": "dFit"}, "mark": {"type": "line", "color": "black", "strokeWidth": 1.2, "interpolate": "monotone", "clip": true},
      "encoding": {
       "x": {"field": "phase", "type": "quantitative", "axis": {"orient": "top", "values": [-0.1,0,0.1,0.2,0.3,0.4,0.5,0.6,0.7,0.8,0.9,1,1.1], "labels": false, "title": null, "encode": {"ticks": {"update": {"y2": {"signal": "abs(datum.value*2-round(datum.value*2))<0.01 ? 8 : 4"}}}}}},
       "y": {"field": "rv", "type": "quantitative", "axis": {"orient": "right", "values": [-100,-90,-80,-70,-60,-50,-40,-30,-20,-10,0,10,20,30,40,50,60,70,80,90,100], "labels": false, "title": null, "encode": {"ticks": {"update": {"x2": {"signal": "abs(datum.value%50)<0.01 ? -8 : -4"}}}}}}
      }},
     {"data": {"values": [{"label": "d\u00a0\u00a0Planet", "phase": -0.2, "rv": 84}]}, "mark": {"type": "text", "align": "left", "baseline": "alphabetic", "dx": 3, "fontSize": 16, "font": "DejaVu Serif", "color": "black"},
      "encoding": {"x": {"field": "phase", "type": "quantitative", "axis": null}, "y": {"field": "rv", "type": "quantitative", "axis": null}, "text": {"field": "label"}}}
    ]
   },
   {
    "width": 281, "height": 180,
    "resolve": {"axis": {"x": "independent", "y": "independent"}},
    "layer": [
     {"data": {"name": "cPts"}, "mark": {"type": "square", "size": 7, "color": "black", "opacity": 1, "clip": true},
      "encoding": {
       "x": {"field": "phase", "type": "quantitative", "scale": {"domain": [-0.2, 1.19], "nice": false, "zero": false}, "axis": {"orient": "bottom", "values": [-0.1,0,0.1,0.2,0.3,0.4,0.5,0.6,0.7,0.8,0.9,1,1.1], "labels": false, "title": null, "encode": {"ticks": {"update": {"y2": {"signal": "abs(datum.value*2-round(datum.value*2))<0.01 ? -8 : -4"}}}}}},
       "y": {"field": "rv", "type": "quantitative", "scale": {"domain": [-110, 110], "nice": false, "zero": false}, "axis": {"orient": "left", "values": [-100,-90,-80,-70,-60,-50,-40,-30,-20,-10,0,10,20,30,40,50,60,70,80,90,100], "labelExpr": "abs(datum.value%50)<0.01 ? datum.label : ''", "labelPadding": 8, "title": null, "encode": {"ticks": {"update": {"x2": {"signal": "abs(datum.value%50)<0.01 ? 8 : 4"}}}}}}
      }},
     {"data": {"name": "cFit"}, "mark": {"type": "line", "color": "black", "strokeWidth": 1.2, "interpolate": "monotone", "clip": true},
      "encoding": {
       "x": {"field": "phase", "type": "quantitative", "axis": {"orient": "top", "values": [-0.1,0,0.1,0.2,0.3,0.4,0.5,0.6,0.7,0.8,0.9,1,1.1], "labels": false, "title": null, "encode": {"ticks": {"update": {"y2": {"signal": "abs(datum.value*2-round(datum.value*2))<0.01 ? 8 : 4"}}}}}},
       "y": {"field": "rv", "type": "quantitative", "axis": {"orient": "right", "values": [-100,-90,-80,-70,-60,-50,-40,-30,-20,-10,0,10,20,30,40,50,60,70,80,90,100], "labels": false, "title": null, "encode": {"ticks": {"update": {"x2": {"signal": "abs(datum.value%50)<0.01 ? -8 : -4"}}}}}}
      }},
     {"data": {"values": [{"label": "c\u00a0\u00a0Planet", "phase": -0.2, "rv": 84}]}, "mark": {"type": "text", "align": "left", "baseline": "alphabetic", "dx": 3, "fontSize": 16, "font": "DejaVu Serif", "color": "black"},
      "encoding": {"x": {"field": "phase", "type": "quantitative", "axis": null}, "y": {"field": "rv", "type": "quantitative", "axis": null}, "text": {"field": "label"}}}
    ]
   },
   {
    "width": 281, "height": 180,
    "resolve": {"axis": {"x": "independent", "y": "independent"}},
    "layer": [
     {"data": {"name": "ePts"}, "mark": {"type": "square", "size": 7, "color": "black", "opacity": 1, "clip": true},
      "encoding": {
       "x": {"field": "phase", "type": "quantitative", "scale": {"domain": [-0.2, 1.19], "nice": false, "zero": false}, "axis": {"orient": "bottom", "values": [-0.1,0,0.1,0.2,0.3,0.4,0.5,0.6,0.7,0.8,0.9,1,1.1], "labelExpr": "abs(datum.value)<0.001 ? '0' : abs(datum.value-0.5)<0.001 ? '0.5' : abs(datum.value-1)<0.001 ? '1' : ''", "labelPadding": 8, "title": "ϕ", "titleFontStyle": "italic", "titleFontSize": 16, "titlePadding": 4, "encode": {"ticks": {"update": {"y2": {"signal": "abs(datum.value*2-round(datum.value*2))<0.01 ? -8 : -4"}}}}}},
       "y": {"field": "rv", "type": "quantitative", "scale": {"domain": [-50, 50], "nice": false, "zero": false}, "axis": {"orient": "left", "values": [-45,-30,-15,0,15,30,45], "labelExpr": "abs(datum.value%30)<0.01 ? datum.label : ''", "labelPadding": 8, "title": "RV (m s⁻¹)", "titlePadding": 8, "encode": {"ticks": {"update": {"x2": {"signal": "abs(datum.value%30)<0.01 ? 8 : 4"}}}}}}
      }},
     {"data": {"name": "eFit"}, "mark": {"type": "line", "color": "black", "strokeWidth": 1.2, "interpolate": "monotone", "clip": true},
      "encoding": {
       "x": {"field": "phase", "type": "quantitative", "axis": {"orient": "top", "values": [-0.1,0,0.1,0.2,0.3,0.4,0.5,0.6,0.7,0.8,0.9,1,1.1], "labels": false, "title": null, "encode": {"ticks": {"update": {"y2": {"signal": "abs(datum.value*2-round(datum.value*2))<0.01 ? 8 : 4"}}}}}},
       "y": {"field": "rv", "type": "quantitative", "axis": {"orient": "right", "values": [-45,-30,-15,0,15,30,45], "labels": false, "title": null, "encode": {"ticks": {"update": {"x2": {"signal": "abs(datum.value%30)<0.01 ? -8 : -4"}}}}}}
      }},
     {"data": {"values": [{"label": "e\u00a0\u00a0Planet", "phase": -0.2, "rv": 33}]}, "mark": {"type": "text", "align": "left", "baseline": "alphabetic", "dx": 3, "fontSize": 16, "font": "DejaVu Serif", "color": "black"},
      "encoding": {"x": {"field": "phase", "type": "quantitative", "axis": null}, "y": {"field": "rv", "type": "quantitative", "axis": null}, "text": {"field": "label"}}}
    ]
   }
  ]
 },
 {
  "width": 281, "height": 89,
  "resolve": {"axis": {"x": "independent", "y": "independent"}},
  "layer": [
   {"data": {"name": "resPts"}, "mark": {"type": "square", "size": 7, "color": "black", "opacity": 1, "clip": true},
    "encoding": {
     "x": {"field": "jd", "type": "quantitative", "scale": {"domain": [6530, 15310], "nice": false, "zero": false}, "axis": {"orient": "bottom", "values": [7000,7500,8000,8500,9000,9500,10000,10500,11000,11500,12000,12500,13000,13500,14000,14500,15000], "labelExpr": "datum.value===8000 ? '8000' : datum.value===10000 ? '10⁴' : datum.value===12000 ? '1.2×10⁴' : datum.value===14000 ? '1.4×10⁴' : ''", "labelPadding": 8, "title": "Julian Date − 2,440,000.02 (day)", "titleFontSize": 16.5, "titlePadding": 4, "encode": {"ticks": {"update": {"y2": {"signal": "datum.value%2000===0 ? -8 : -4"}}}}}},
     "y": {"field": "rv", "type": "quantitative", "scale": {"domain": [-50, 50], "nice": false, "zero": false}, "axis": {"orient": "left", "values": [-40,-30,-20,-10,0,10,20,30,40], "labelExpr": "abs(datum.value%40)<0.01 ? datum.label : ''", "labelPadding": 8, "title": "RV (m s⁻¹)", "titlePadding": 8, "encode": {"ticks": {"update": {"x2": {"signal": "abs(datum.value%40)<0.01 ? 8 : 4"}}}}}}
    }},
   {"data": {"name": "resZero"}, "mark": {"type": "line", "color": "black", "strokeWidth": 1.2},
    "encoding": {
     "x": {"field": "jd", "type": "quantitative", "axis": {"orient": "top", "values": [7000,7500,8000,8500,9000,9500,10000,10500,11000,11500,12000,12500,13000,13500,14000,14500,15000], "labels": false, "title": null, "encode": {"ticks": {"update": {"y2": {"signal": "datum.value%2000===0 ? 8 : 4"}}}}}},
     "y": {"field": "rv", "type": "quantitative", "axis": {"orient": "right", "values": [-40,-30,-20,-10,0,10,20,30,40], "labels": false, "title": null, "encode": {"ticks": {"update": {"x2": {"signal": "abs(datum.value%40)<0.01 ? -8 : -4"}}}}}}
    }}
  ]
 }
]
}
